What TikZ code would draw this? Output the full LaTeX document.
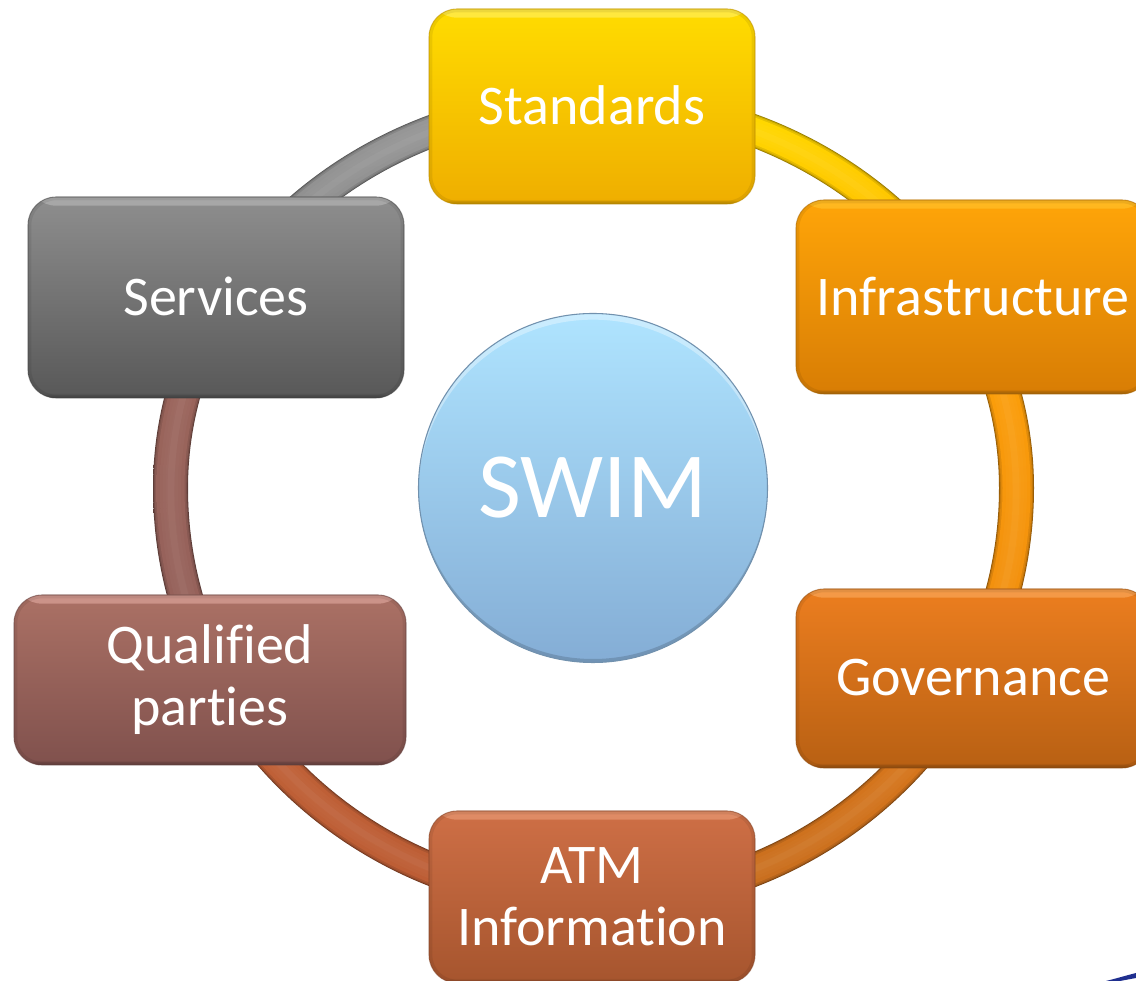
\documentclass[tikz,border=0pt]{standalone}
\usepackage{fontspec}
\setmainfont{Carlito}[Ligatures=NoCommon]
\usetikzlibrary{shapes.geometric}
\pgfdeclarelayer{back}
\pgfsetlayers{back,main}
\newcommand{\hc}[1]{\definecolor{#1}{HTML}{#1}}
\hc{FFDC00}\hc{EFAE00}\hc{FFE840}\hc{B98A00}
\hc{FFA508}\hc{D87D05}\hc{FFB820}\hc{A5660A}
\hc{EC7E1F}\hc{B86013}\hc{F49A48}\hc{8F4C10}
\hc{CE6F46}\hc{A6552E}\hc{E08C66}\hc{82452A}
\hc{AB7165}\hc{80514D}\hc{CC948A}\hc{62403E}
\hc{8E8E8E}\hc{585858}\hc{A8A8A8}\hc{444444}
\hc{AFE4FF}\hc{84ADD5}\hc{7191AE}
\hc{FFE000}\hc{FFB400}\hc{FFA408}\hc{EE8A10}\hc{DE7A1A}\hc{C46C20}
\hc{BC5C34}\hc{C06238}\hc{9C665C}\hc{94605A}\hc{9A9A9A}\hc{8A8A8A}\hc{1F2F8F}
\newcommand{\ringband}[6]{%
  \foreach \d/\mm in {0/!60!black,0.8/!78!black,1.8/!90!black,3.5/!100!black,7/!98!white,10/!97!white,13/!96!white}{%
    \begin{scope}
      \clip (#1,#3) rectangle (#2,#4);
      \clip (-440.5+\d,0) arc[start angle=180,end angle=0,x radius=440.5-\d,y radius=402-\d]
                          arc[start angle=0,end angle=-180,x radius=440.5-\d,y radius=429-\d] -- cycle
            (-405.5-\d,0) arc[start angle=180,end angle=360,x radius=405.5+\d,y radius=396+\d]
                          arc[start angle=0,end angle=180,x radius=405.5+\d,y radius=370+\d] -- cycle;
      \shade[top color=#5\mm,bottom color=#6\mm] (#1,#4) rectangle (#2,#3);
    \end{scope}}%
}
\newcommand{\up}[1]{\raisebox{1.5pt}{#1}}
\tikzset{
  boxbase/.style n args={6}{rectangle,rounded corners=21pt,inner sep=0pt,align=center,text=white,
    font=\fontsize{42}{46.5}\selectfont,
    minimum width=#1*0.75pt,minimum height=#2*0.75pt,
    top color=#3,bottom color=#4,draw=#6,draw opacity=.5,line width=.8pt,
    path picture={
      \shade[top color=#5,bottom color=#3] (path picture bounding box.north west) rectangle ([yshift=-6.5pt]path picture bounding box.north east);
      \shade[top color=#4,bottom color=#6] ([yshift=3.5pt]path picture bounding box.south west) rectangle (path picture bounding box.south east);
      \draw[black,opacity=.07,line width=5pt,rounded corners=21pt] (path picture bounding box.south west) rectangle (path picture bounding box.north east);
    }},
  tube/.style={line width=5pt,white,opacity=.03}
}
\begin{document}
\begin{tikzpicture}[x=0.75pt,y=0.75pt]
\useasboundingbox (0,0) rectangle (1136,981);
\clip (0,0) rectangle (1136,981);

\node[boxbase={326}{195}{FFDC00}{EFAE00}{FFE840}{B98A00}] (std) at (592,874.5) {\up{Standards}};
\node[boxbase={354}{194}{FFA508}{D87D05}{FFB820}{A5660A}] (inf) at (973,684) {\up{Infrastructure}};
\node[boxbase={354}{179}{EC7E1F}{B86013}{F49A48}{8F4C10}] (gov) at (973,302.5) {\up{Governance}};
\node[boxbase={326}{172}{CE6F46}{A6552E}{E08C66}{82452A}] (atm) at (592,84) {ATM\\Information};
\node[boxbase={392}{170}{AB7165}{80514D}{CC948A}{62403E}] (qual) at (210,301) {Qualified\\parties};
\node[boxbase={376}{201}{8E8E8E}{585858}{A8A8A8}{444444}] (srv) at (216,683.5) {\up{Services}};

\node[circle,inner sep=0pt,minimum size=349*0.75pt,top color=AFE4FF,bottom color=84ADD5,draw=7191AE,line width=.8pt,text=white,font=\fontsize{70}{72}\selectfont,
  path picture={
    \fill[white,opacity=.35,even odd rule] (path picture bounding box.center) circle (175) ([yshift=-5pt]path picture bounding box.center) circle (175);
    \fill[black,opacity=.15,even odd rule] (path picture bounding box.center) circle (175) ([yshift=3pt]path picture bounding box.center) circle (175);
  }] (swim) at (593,493) {SWIM};

\coordinate (r1) at ([shift={(1.5,4.5)}]std.center);
\coordinate (r2) at ([shift={(-13.5,2)}]inf.center);
\coordinate (r3) at ([shift={(-13.5,-15.5)}]gov.center);
\coordinate (r4) at ([shift={(1.5,-3)}]atm.center);
\coordinate (r5) at ([shift={(17.5,-14)}]qual.center);
\coordinate (r6) at ([shift={(11.5,2.5)}]srv.center);

\begin{pgfonlayer}{back}
\fill[white] (0,0) rectangle (1136,981);
\begin{scope}[shift={(593.5,493)}]
  \ringband{0}{460}{200}{410}{FFE000}{FFB400}
  \ringband{0}{-460}{200}{410}{9A9A9A}{8A8A8A}
  \ringband{100}{460}{-200}{200}{FFA408}{EE8A10}
  \ringband{-100}{-460}{-200}{200}{9C665C}{94605A}
  \ringband{0}{460}{-440}{-200}{DE7A1A}{C46C20}
  \ringband{0}{-460}{-440}{-200}{C06238}{BC5C34}
\end{scope}
\draw[tube] (r1) .. controls +(151,0) and +(-75.5,119) .. (r2);
\draw[tube] (r2) .. controls +(75.5,-119) and +(75.5,127) .. (r3);
\draw[tube] (r3) .. controls +(-75.5,-127) and +(151,0) .. (r4);
\draw[tube] (r4) .. controls +(-151,0) and +(75.5,-127) .. (r5);
\draw[tube] (r5) .. controls +(-75.5,127) and +(-75.5,-119) .. (r6);
\draw[tube] (r6) .. controls +(75.5,119) and +(-151,0) .. (r1);
\end{pgfonlayer}

\fill[1F2F8F] (1106,0) .. controls (1118,3) and (1128,6) .. (1136,8) -- (1136,3) -- (1120,0) -- cycle;
\end{tikzpicture}
\end{document}
